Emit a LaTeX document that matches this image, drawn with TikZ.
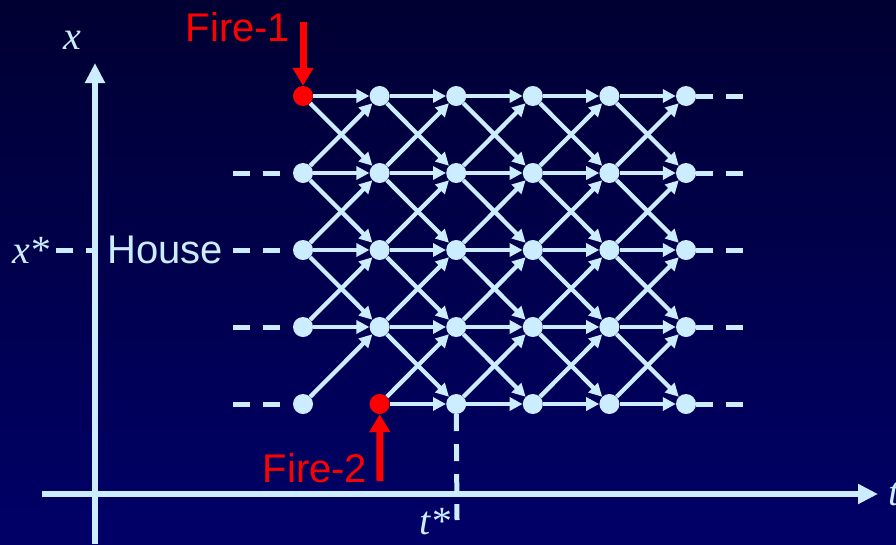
\documentclass[tikz,border=0pt]{standalone}
\usepackage{fontspec}
\setmainfont{Liberation Sans}
\newfontfamily\timesfont{Liberation Serif}
\usetikzlibrary{arrows.meta}
\definecolor{bgTop}{RGB}{0,0,50}
\definecolor{bgBottom}{RGB}{0,0,104}
\definecolor{iceBlue}{RGB}{204,236,255}
\definecolor{fireRed}{RGB}{255,0,0}
\newcommand{\axlab}[1]{{\timesfont\itshape #1}}
\tikzset{
  grid dot/.style={circle,fill=iceBlue,inner sep=0pt,minimum size=20pt},
  fire dot/.style={grid dot,fill=fireRed},
  spread/.style={draw=iceBlue,line width=4.3pt,-{Triangle[length=13pt,width=13pt]}},
  tail dash/.style={draw=iceBlue,line width=5pt,dash pattern=on 17pt off 13pt},
  axis line/.style={draw=iceBlue,line width=6pt,-{Triangle[length=20pt,width=19pt]}},
  fire arrow/.style={draw=fireRed,line width=7pt,-{Triangle[length=18pt,width=20pt]}},
  big text/.style={font=\fontsize{40}{48}\selectfont,inner sep=0pt,text=iceBlue}
}

\begin{document}
\begin{tikzpicture}[x=1pt,y=-1pt]
\fill[top color=bgTop,bottom color=bgBottom] (0,0) rectangle (896,544);
\useasboundingbox (0,0) rectangle (896,544);

% lattice of states
\foreach \c in {0,...,5}
  \foreach \r in {0,...,4}{
    \pgfmathtruncatemacro\isfire{(\c==0 && \r==0) || (\c==1 && \r==4)}
    \ifnum\isfire=1
      \node[fire dot] (n\c\r) at ({303+76.6*\c},{96+77*\r}) {};
    \else
      \node[grid dot] (n\c\r) at ({303+76.6*\c},{96+77*\r}) {};
    \fi
  }

% spreading
\foreach \c in {0,...,4}
  \foreach \r in {0,...,4}{
    \pgfmathtruncatemacro\nc{\c+1}
    \pgfmathtruncatemacro\up{\r-1}
    \pgfmathtruncatemacro\dn{\r+1}
    \pgfmathtruncatemacro\skipH{\c==0 && \r==4}
    \pgfmathtruncatemacro\skipD{\c==0 && \r==3}
    \ifnum\skipH=0 \draw[spread] (n\c\r) -- (n\nc\r); \fi
    \ifnum\r>0 \draw[spread] (n\c\r) -- (n\nc\up); \fi
    \ifnum\r<4 \ifnum\skipD=0 \draw[spread] (n\c\r) -- (n\nc\dn); \fi\fi
  }

% open ends
\foreach \r in {1,...,4}{
  \coordinate (l\r) at (233,{96+77*\r});
  \draw[tail dash] (l\r) -- (n0\r);
}
\foreach \r in {0,...,4}{
  \coordinate (e\r) at (744,{96+77*\r});
  \draw[tail dash] (n5\r) -- (e\r);
}

% labels
\node[big text] (xlab) at (72,40) {\axlab{x}};
\node[big text] (xstar) at (31,250) {\axlab{x*}};
\node[big text,anchor=west] (house) at (107,250) {House};
\node[big text,anchor=west] (tlab) at (888,494) {\axlab{t}};
\node[big text] (tstar) at (435,522) {\axlab{t*}};
\draw[tail dash,shorten <=6pt,shorten >=10pt] (xstar.east) -- (house.west);

% axes
\coordinate (ybot) at (95,544);
\coordinate (ytop) at (95,63);
\coordinate (xleft) at (42,494);
\coordinate (xright) at (878,494);
\coordinate (tfoot) at (457,520);
\draw[tail dash] (n24) -- (tfoot);
\draw[axis line] (ybot) -- (ytop);
\draw[axis line] (xleft) -- (xright);

% fires
\node[big text,text=fireRed] (fire1) at (238,27) {Fire-1};
\node[big text,text=fireRed] (fire2) at (315,468) {Fire-2};
\coordinate (f1tail) at (303,22);
\coordinate (f2tail) at (380,481);
\draw[fire arrow] (f1tail) -- (n00);
\draw[fire arrow] (f2tail) -- (n14);
\end{tikzpicture}
\end{document}
